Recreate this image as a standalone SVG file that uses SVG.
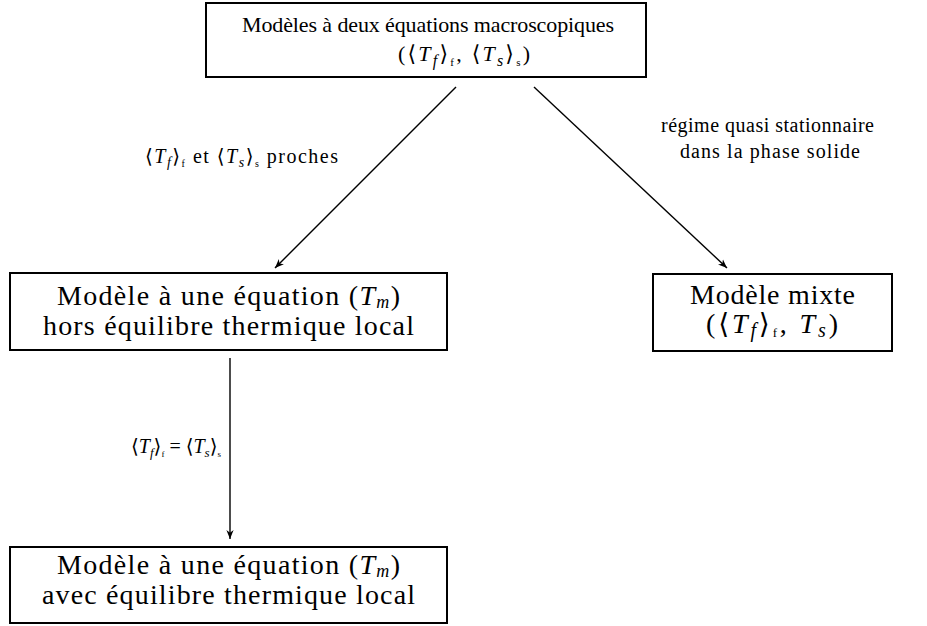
<svg xmlns="http://www.w3.org/2000/svg" width="927" height="626" viewBox="0 0 927 626">
<style>
.box{fill:#fff;stroke:#000;stroke-width:2}
.t{font-family:"Liberation Serif","DejaVu Serif",serif;font-size:28px;fill:#000}
.s{font-family:"Liberation Serif","DejaVu Serif",serif;font-size:22px;fill:#000}
.l{font-family:"Liberation Serif","DejaVu Serif",serif;font-size:20px;fill:#000}
.i{font-style:italic}
.edge{stroke:#000;stroke-width:1.4;fill:none;marker-end:url(#ah)}
</style>
<defs>
<marker id="ah" viewBox="0 0 10 10" refX="10" refY="5" markerWidth="9" markerHeight="9" orient="auto" markerUnits="userSpaceOnUse">
<path d="M0,1 L10,5 L0,9 L3,5 Z" fill="#000"/>
</marker>
</defs>
<g id="connectors">
<path class="edge" d="M456,87 L275,268"/>
<path class="edge" d="M534,87 L727,268"/>
<path class="edge" d="M230,358 L230,539"/>
<text class="l" x="145" y="163" textLength="193" lengthAdjust="spacing">⟨<tspan class="i">T</tspan><tspan class="i" font-size="14" dy="4">f</tspan><tspan dy="-4">⟩</tspan><tspan font-size="10" dy="4">f</tspan><tspan dy="-4"> et ⟨</tspan><tspan class="i">T</tspan><tspan class="i" font-size="14" dy="4">s</tspan><tspan dy="-4">⟩</tspan><tspan font-size="10" dy="4">s</tspan><tspan dy="-4"> proches</tspan></text>
<text class="l" x="661" y="132" textLength="213" lengthAdjust="spacing">régime quasi stationnaire</text>
<text class="l" x="680" y="158" textLength="180" lengthAdjust="spacing">dans la phase solide</text>
<text class="l" x="221" y="453" font-size="18" text-anchor="end">⟨<tspan class="i">T</tspan><tspan class="i" font-size="13" dy="4">f</tspan><tspan dy="-4">⟩</tspan><tspan font-size="9" dy="4">f</tspan><tspan dy="-4"> = ⟨</tspan><tspan class="i">T</tspan><tspan class="i" font-size="13" dy="4">s</tspan><tspan dy="-4">⟩</tspan><tspan font-size="9" dy="4">s</tspan></text>
</g>
<g id="n1">
<rect class="box" x="206" y="3" width="440" height="74"/>
<text class="s" x="242" y="32" textLength="372" lengthAdjust="spacing">Modèles à deux équations macroscopiques</text>
<text class="s" x="398" y="61" font-size="25" textLength="132" lengthAdjust="spacing">(⟨<tspan class="i">T</tspan><tspan class="i" font-size="16" dy="5">f</tspan><tspan dy="-5">⟩</tspan><tspan font-size="11" dy="5">f</tspan><tspan dy="-5">, ⟨</tspan><tspan class="i">T</tspan><tspan class="i" font-size="16" dy="5">s</tspan><tspan dy="-5">⟩</tspan><tspan font-size="11" dy="5">s</tspan><tspan dy="-5">)</tspan></text>
</g>
<g id="n2">
<rect class="box" x="10" y="273" width="437" height="77"/>
<text class="t" x="57" y="305" textLength="343" lengthAdjust="spacing">Modèle à une équation (<tspan class="i">T</tspan><tspan class="i" font-size="18" dy="3">m</tspan><tspan dy="-3">)</tspan></text>
<text class="t" x="43" y="335" textLength="371" lengthAdjust="spacing">hors équilibre thermique local</text>
</g>
<g id="n3">
<rect class="box" x="653" y="274" width="239" height="77"/>
<text class="t" x="690" y="304" textLength="165" lengthAdjust="spacing">Modèle mixte</text>
<text class="t" x="706" y="333" font-size="31" textLength="132" lengthAdjust="spacing">(⟨<tspan class="i">T</tspan><tspan class="i" font-size="20" dy="4">f</tspan><tspan dy="-4">⟩</tspan><tspan font-size="13" dy="4">f</tspan><tspan dy="-4">, </tspan><tspan class="i">T</tspan><tspan class="i" font-size="20" dy="4">s</tspan><tspan dy="-4">)</tspan></text>
</g>
<g id="n4">
<rect class="box" x="10" y="547" width="437" height="76"/>
<text class="t" x="57" y="574" textLength="343" lengthAdjust="spacing">Modèle à une équation (<tspan class="i">T</tspan><tspan class="i" font-size="18" dy="3">m</tspan><tspan dy="-3">)</tspan></text>
<text class="t" x="42" y="604" textLength="373" lengthAdjust="spacing">avec équilibre thermique local</text>
</g>
</svg>
